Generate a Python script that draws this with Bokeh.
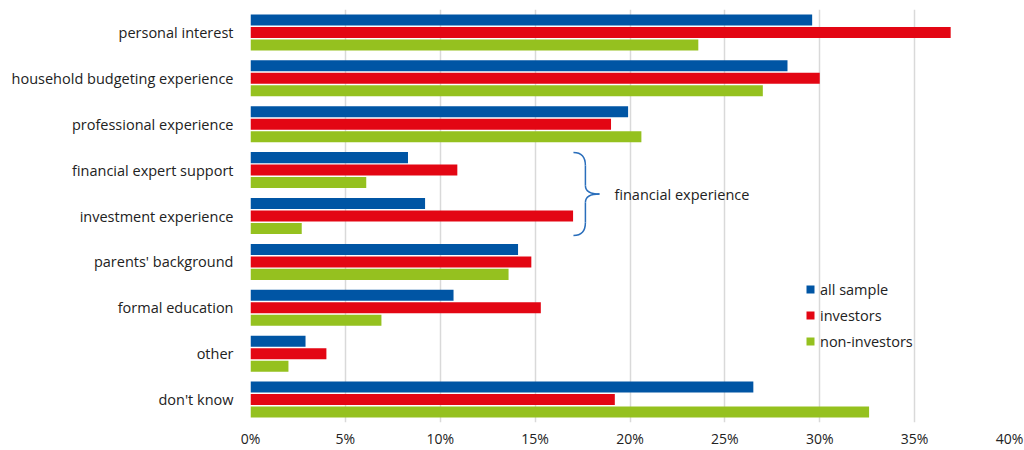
from bokeh.plotting import figure
from bokeh.models import Range1d, FixedTicker, PrintfTickFormatter, ColumnDataSource
from bokeh.core.properties import value
from bokeh.embed import file_html
from bokeh.resources import INLINE
import numpy as np

categories = ["personal interest", "household budgeting experience", "professional experience",
              "financial expert support", "investment experience", "parents' background",
              "formal education", "other", "don't know"]
all_sample = [29.6, 28.3, 19.9, 8.3, 9.2, 14.1, 10.7, 2.9, 26.5]
investors = [36.9, 30.0, 19.0, 10.9, 17.0, 14.8, 15.3, 4.0, 19.2]
non_investors = [23.6, 27.0, 20.6, 6.1, 2.7, 13.6, 6.9, 2.0, 32.6]
x_ticks = [0, 5, 10, 15, 20, 25, 30, 35, 40]
series_names = ["all sample", "investors", "non-investors"]
colors = ["#0055a4", "#e30613", "#95c11f"]

FONT = "Open Sans"
n = len(categories)
ypos = np.arange(n)[::-1].astype(float)

p = figure(width=1024, height=450, output_backend="svg", toolbar_location=None,
           x_range=Range1d(0, 40), y_range=Range1d(-0.5, 8.5),
           min_border_left=250, min_border_right=15, min_border_top=9, min_border_bottom=28)
p.outline_line_color = None
p.background_fill_color = "white"

offsets = [0.272, 0.0, -0.272]
for vals, name, col, off in zip([all_sample, investors, non_investors], series_names, colors, offsets):
    src = ColumnDataSource(dict(y=ypos + off, right=vals))
    p.hbar(y="y", right="right", left=0, height=0.24, source=src,
           fill_color=col, line_color=None, legend_label=name)

# x axis
p.xaxis.ticker = FixedTicker(ticks=x_ticks)
p.xaxis.formatter = PrintfTickFormatter(format="%d%%")
p.xaxis.axis_line_color = None
p.xaxis.major_tick_line_color = None
p.xaxis.minor_tick_line_color = None
p.xaxis.major_tick_out = 0
p.xaxis.minor_tick_out = 0
p.xaxis.major_tick_in = 0
p.xaxis.minor_tick_in = 0
p.xaxis.major_label_standoff = 6
p.xaxis.major_label_text_font = FONT
p.xaxis.major_label_text_font_size = "14px"
p.xaxis.major_label_text_color = "#222222"

# y axis
p.yaxis.ticker = FixedTicker(ticks=list(ypos))
p.yaxis.major_label_overrides = {float(y): c for y, c in zip(ypos, categories)}
p.yaxis.major_label_overrides.update({int(y): c for y, c in zip(ypos, categories)})
p.yaxis.axis_line_color = None
p.yaxis.major_tick_line_color = None
p.yaxis.minor_tick_line_color = None
p.yaxis.major_tick_out = 0
p.yaxis.minor_tick_out = 0
p.yaxis.major_tick_in = 0
p.yaxis.minor_tick_in = 0
p.yaxis.major_label_standoff = 17
p.yaxis.major_label_text_font = FONT
p.yaxis.major_label_text_font_size = "14.5px"
p.yaxis.major_label_text_color = "#222222"

p.xgrid.ticker = FixedTicker(ticks=x_ticks)
p.xgrid.grid_line_color = "#d9d9d9"
p.xgrid.grid_line_width = 1.5
p.ygrid.grid_line_color = None

# brace annotation (financial experience)
bx0, bx1, bx2 = 17.02, 17.65, 18.39
p.quadratic(x0=[bx0, bx1, bx2, bx1], y0=[5.386, 4.667, 4.48, 3.86],
            x1=[bx1, bx2, bx1, bx0], y1=[5.10, 4.48, 4.296, 3.577],
            cx=[bx1, bx1, bx1, bx1], cy=[5.386, 4.48, 4.48, 3.577],
            line_color="#2a6ebb", line_width=1.5)
p.segment(x0=[bx1, bx1], y0=[5.10, 4.296], x1=[bx1, bx1], y1=[4.667, 3.86],
          line_color="#2a6ebb", line_width=1.5)
p.text(x=[19.18], y=[4.47], text=["financial experience"], text_font=value(FONT),
       text_font_size="14.5px", text_baseline="middle", text_align="left", text_color="#222222")

lg = p.legend[0]
lg.location = (555, 71)
lg.border_line_color = None
lg.background_fill_alpha = 0
lg.padding = 0
lg.margin = 0
lg.spacing = 6
lg.glyph_width = 10
lg.glyph_height = 10
lg.label_height = 20
lg.label_standoff = 5
lg.label_text_font = FONT
lg.label_text_font_size = "14.5px"
lg.label_text_color = "#222222"

open("out.html", "w").write(file_html(p, INLINE))
